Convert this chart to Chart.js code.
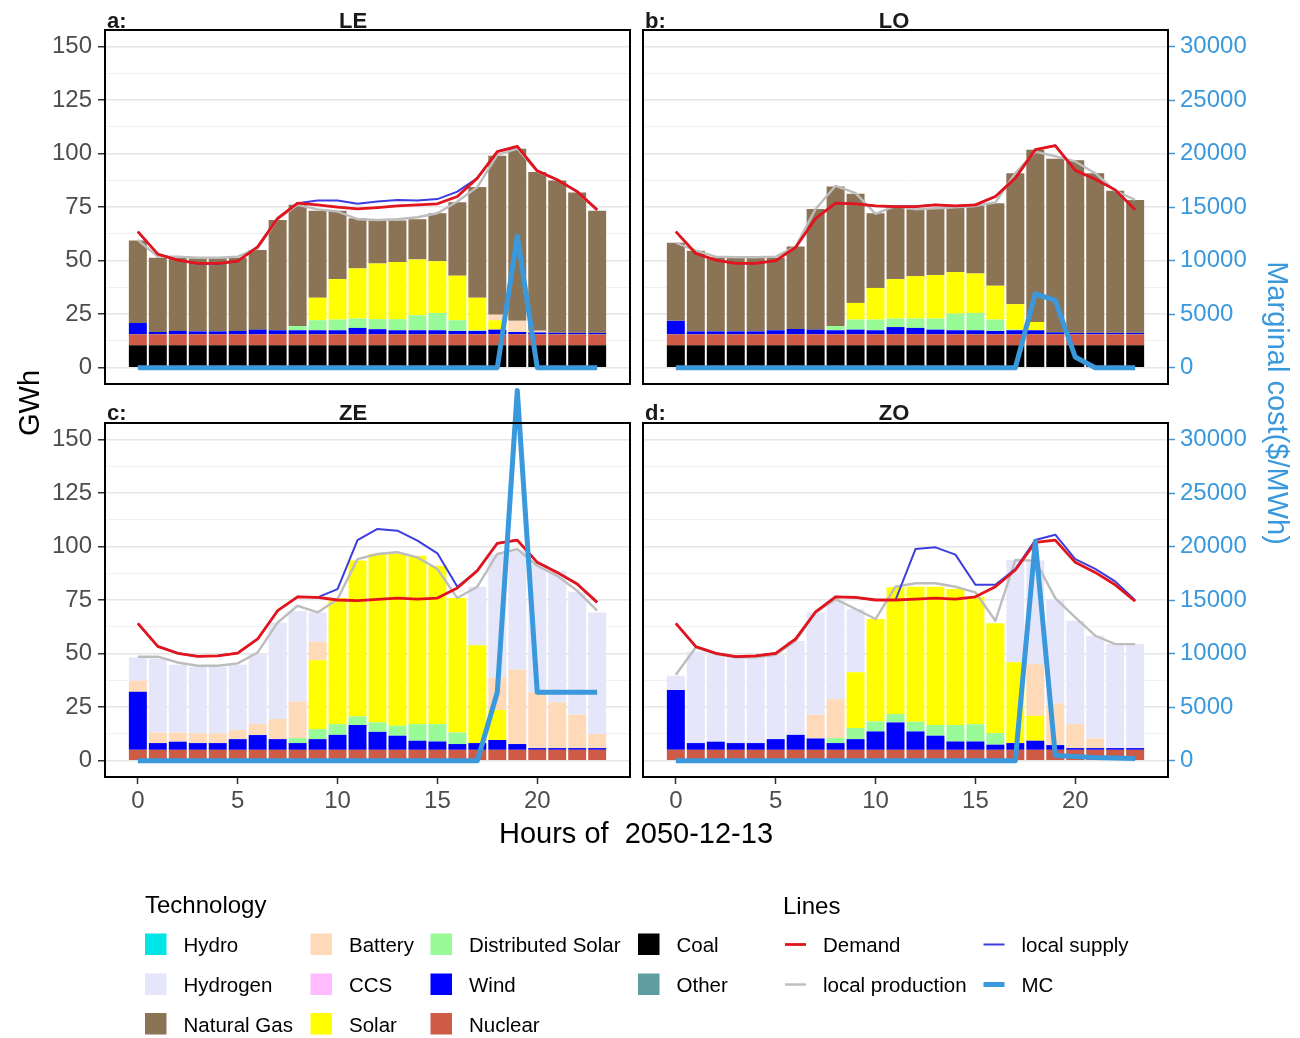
<!DOCTYPE html>
<html>
<head>
<meta charset="utf-8">
<script src="https://cdn.jsdelivr.net/npm/chart.js@4.4.0/dist/chart.umd.min.js"></script>
<style>
  html, body { margin: 0; padding: 0; background: #ffffff; }
  body { width: 1300px; height: 1038px; position: relative; overflow: hidden; font-family: "Liberation Sans", Arial, Helvetica, sans-serif; }
  canvas { position: absolute; }
  #ov { position: absolute; left: 0; top: 0; pointer-events: none; }
</style>
</head>
<body>
<canvas id="cA" width="636" height="388" style="left:0px;top:0px;width:636px;height:388px"></canvas>
<canvas id="cB" width="663" height="388" style="left:637px;top:0px;width:663px;height:388px"></canvas>
<canvas id="cC" width="636" height="443" style="left:0px;top:383px;width:636px;height:443px"></canvas>
<canvas id="cD" width="663" height="443" style="left:637px;top:383px;width:663px;height:443px"></canvas>
<svg id="ov" width="1300" height="1038" xmlns="http://www.w3.org/2000/svg" font-family="'Liberation Sans', Arial, Helvetica, sans-serif"></svg>
<script>
// ---------------- data ----------------
const hours = [0,1,2,3,4,5,6,7,8,9,10,11,12,13,14,15,16,17,18,19,20,21,22,23];
const xTickVals = [0,5,10,15,20];
const yMajorTicks = [0,25,50,75,100,125,150];
const yMinorTicks = [12.5,37.5,62.5,87.5,112.5,137.5];
const mcTickVals = [0,5000,10000,15000,20000,25000,30000];

// stacked technologies, bottom to top
const techNames  = ['Coal','Nuclear','Wind','Distributed Solar','Solar','Battery','Hydrogen','Natural Gas'];
const techColors = ['#000000','#cd5b45','#0000ff','#98fb98','#ffff00','#ffdab9','#e6e6fa','#8b7355'];

// legend (column-major, as in the figure)
const legendTech   = ['Hydro','Hydrogen','Natural Gas','Battery','CCS','Solar','Distributed Solar','Wind','Nuclear','Coal','Other'];
const legendColors = ['#00e5e5','#e6e6fa','#8b7355','#ffdab9','#ffbbff','#ffff00','#98fb98','#0000ff','#cd5b45','#000000','#5f9ea0'];
const legendLines  = ['Demand','local production','local supply','MC'];

// ---- panel a: LE ----
const LE_coal     = [10.5,10.5,10.5,10.5,10.5,10.5,10.5,10.5,10.5,10.5,10.5,10.5,10.5,10.5,10.5,10.5,10.5,10.5,10.5,10.5,10.5,10.5,10.5,10.5];
const LE_nuclear  = [5.1,5.1,5.1,5.1,5.1,5.1,5.1,5.1,5.1,5.1,5.1,5.1,5.1,5.1,5.1,5.1,5.1,5.1,5.1,5.1,5.1,5.1,5.1,5.1];
const LE_wind     = [5.3,1.1,1.6,1.4,1.4,1.6,2.2,1.9,1.9,1.9,1.9,3.0,2.4,1.9,1.9,1.9,1.6,1.6,2.2,1.1,0.9,0.7,0.7,0.7];
const LE_dsolar   = [0,0,0,0,0,0,0,0,2.0,4.7,5.0,4.4,4.7,5.2,7.0,8.1,5.0,0.3,0,0,0,0,0,0];
const LE_solar    = [0,0,0,0,0,0,0,0,0,10.5,18.9,23.4,26.0,26.7,26.1,24.2,20.8,15.2,4.4,0,0,0,0,0];
const LE_battery  = [0,0,0,0,0,0,0,0,0,0,0,0,0,0,0,0,0,0,2.6,5.2,0.8,0,0,0];
const LE_hydrogen = [0,0,0,0,0,0,0,0,0,0,0,0,0,0,0,0,0,0,0,0,0,0,0,0];
const LE_gas      = [38.5,34.7,34.2,34.1,34.1,34.2,37.2,51.5,56.6,40.7,31.9,23.4,20.0,19.4,18.8,22.4,34.3,51.7,74.2,80.4,74.1,71.2,65.6,57.1];
const LE_demand     = [63.6,53.1,50.3,48.8,48.8,49.8,56.5,69.8,76.9,76.1,75.0,74.2,74.8,75.6,76.1,76.6,80.0,88.6,101.0,103.4,92.0,87.8,82.3,73.8];
const LE_supply     = [63.6,53.1,50.3,48.6,48.6,49.8,56.5,69.8,76.9,78.1,78.1,76.6,77.7,78.4,78.1,78.8,82.3,88.6,101.0,103.4,92.0,87.8,82.3,73.8];
const LE_production = [59.7,51.9,51.9,51.4,51.4,51.9,55.8,69.4,76.1,74.0,73.0,69.4,69.0,69.4,70.3,72.2,77.7,84.4,99.5,102.3,91.7,87.8,82.3,73.4];
const LE_mc         = [0,0,0,0,0,0,0,0,0,0,0,0,0,0,0,0,0,0,0,12300,0,0,0,0];

// ---- panel b: LO ----
const LO_coal     = [10.5,10.5,10.5,10.5,10.5,10.5,10.5,10.5,10.5,10.5,10.5,10.5,10.5,10.5,10.5,10.5,10.5,10.5,10.5,10.5,10.5,10.5,10.5,10.5];
const LO_nuclear  = [5.1,5.1,5.1,5.1,5.1,5.1,5.1,5.1,5.1,5.1,5.1,5.1,5.1,5.1,5.1,5.1,5.1,5.1,5.1,5.1,5.1,5.1,5.1,5.1];
const LO_wind     = [6.3,1.4,1.4,1.4,1.4,1.9,2.5,2.2,1.9,2.2,1.9,3.4,3.0,2.2,1.9,1.9,1.6,1.9,1.9,0.9,0.7,0.7,0.7,0.7];
const LO_dsolar   = [0,0,0,0,0,0,0,0,2.0,4.7,5.0,4.0,4.4,5.2,7.8,8.1,5.3,0.3,0,0,0,0,0,0];
const LO_solar    = [0,0,0,0,0,0,0,0,0,7.8,14.8,18.4,19.8,20.3,19.4,18.4,15.8,11.9,3.9,0,0,0,0,0];
const LO_battery  = [0,0,0,0,0,0,0,0,0,0,0,0,0,0,0,0,0,0,0,0,0,0,0,0];
const LO_hydrogen = [0,0,0,0,0,0,0,0,0,0,0,0,0,0,0,0,0,0,0,0,0,0,0,0];
const LO_gas      = [36.5,37.7,34.6,34.4,34.4,33.9,38.5,56.4,65.2,51.0,34.9,34.2,31.2,31.2,30.3,31.6,38.6,61.2,80.5,81.2,80.6,74.6,66.4,62.1];
const LO_demand     = [63.6,53.4,50.3,48.8,48.8,50.0,56.3,69.8,76.9,76.6,75.6,75.3,75.3,76.1,75.6,76.1,80.0,88.6,101.9,103.8,92.2,88.1,83.1,73.8];
const LO_supply     = [63.6,53.4,50.3,48.8,48.8,50.0,56.3,69.8,76.9,76.6,75.6,75.3,75.3,76.1,75.6,76.1,80.0,88.6,101.9,103.8,92.2,88.1,83.1,73.8];
const LO_production = [58.4,54.7,51.9,51.6,51.6,51.9,56.6,74.2,85.0,81.6,71.9,75.6,74.0,74.5,75.0,75.6,77.2,90.9,101.0,98.8,96.4,90.9,82.7,78.4];
const LO_mc         = [0,0,0,0,0,0,0,0,0,0,0,0,0,0,0,0,0,0,6900,6300,1000,0,0,0];

// ---- panel c: ZE ----
const ZE_coal     = [0,0,0,0,0,0,0,0,0,0,0,0,0,0,0,0,0,0,0,0,0,0,0,0];
const ZE_nuclear  = [5.1,5.1,5.1,5.1,5.1,5.1,5.1,5.1,5.1,5.1,5.1,5.1,5.1,5.1,5.1,5.1,5.1,5.1,5.1,5.1,5.1,5.1,5.1,5.1];
const ZE_wind     = [27.1,3.15,3.8,3.15,3.15,5.0,6.9,5.0,3.15,5.0,7.0,11.6,8.4,6.6,4.25,3.9,2.7,3.15,4.6,2.7,0.8,0.8,0.8,0.8];
const ZE_dsolar   = [0,0,0,0,0,0,0,0,2.35,4.7,5.0,4.0,4.4,4.7,7.75,8.1,5.4,0,0,0,0,0,0,0];
const ZE_solar    = [0,0,0,0,0,0,0,0,0,32.2,58.9,72.8,78.7,80.2,78.7,74.0,62.8,45.75,14.0,0,0,0,0,0];
const ZE_battery  = [5.2,4.95,4.3,4.55,4.55,4.2,5.1,9.4,17.1,8.6,0,0,0,0,0,0,0,0,15.2,34.7,26.0,21.4,15.6,6.6];
const ZE_hydrogen = [10.9,34.6,31.7,31.1,31.1,30.6,32.7,45.1,42.3,13.7,0,0,0,0,0,0,0,27.3,57.6,55.9,60.0,61.5,57.5,56.8];
const ZE_gas      = [0,0,0,0,0,0,0,0,0,0,0,0,0,0,0,0,0,0,0,0,0,0,0,0];
const ZE_demand     = [64.2,53.4,50.2,48.8,49.0,50.3,56.9,70.1,76.6,76.3,75.1,74.8,75.4,76.0,75.5,76.0,80.7,88.8,101.6,103.1,92.7,88.0,82.6,74.0];
const ZE_supply     = [64.2,53.4,50.2,48.8,49.0,50.3,56.9,70.1,76.6,76.3,80.2,103.1,108.3,107.5,102.8,96.9,81.3,88.8,101.6,103.1,92.7,88.0,82.6,74.0];
const ZE_production = [48.6,48.6,45.9,44.4,44.4,45.5,50.6,64.6,72.4,69.3,75.5,94.2,96.6,97.4,95.0,89.6,76.0,81.3,96.6,98.9,91.1,86.4,79.4,70.1];
const ZE_mc         = [0,0,0,0,0,0,0,0,0,0,0,0,0,0,0,0,0,0,6400,34600,6400,6400,6400,6400];

// ---- panel d: ZO ----
const ZO_coal     = [0,0,0,0,0,0,0,0,0,0,0,0,0,0,0,0,0,0,0,0,0,0,0,0];
const ZO_nuclear  = [5.1,5.1,5.1,5.1,5.1,5.1,5.1,5.1,5.1,5.1,5.1,5.1,5.1,5.1,5.1,5.1,5.1,5.1,5.1,5.1,5.1,5.1,5.1,5.1];
const ZO_wind     = [27.9,3.15,3.8,3.15,3.15,5.0,7.0,5.3,3.15,5.0,8.6,12.8,8.6,6.6,3.9,3.9,2.4,3.15,4.25,2.2,0.8,0.8,0.8,0.8];
const ZO_dsolar   = [0,0,0,0,0,0,0,0,2.35,5.2,4.7,3.9,4.5,5.0,7.7,8.1,5.4,0,0,0,0,0,0,0];
const ZO_solar    = [0,0,0,0,0,0,0,0,0,26.0,47.8,59.2,63.1,64.6,63.5,59.5,51.3,37.75,11.65,0,0,0,0,0];
const ZO_battery  = [0,0,0,0,0,0,0,11.1,18.2,0,0,0,0,0,0,0,0,0,24.2,19.5,11.2,4.5,0,0];
const ZO_hydrogen = [6.7,42.75,40.6,40.05,40.05,39.4,43.9,47.8,46.7,29.6,0,0,0,0,0,0,0,47.8,48.3,48.7,48.3,48.0,48.6,48.6];
const ZO_gas      = [0,0,0,0,0,0,0,0,0,0,0,0,0,0,0,0,0,0,0,0,0,0,0,0];
const ZO_demand     = [64.2,53.3,50.2,48.6,49.0,50.2,56.9,69.6,76.6,76.3,75.1,75.1,75.5,76.0,75.5,76.6,81.3,89.1,102.0,103.1,92.7,88.0,82.2,74.5];
const ZO_supply     = [64.2,53.3,50.2,48.6,49.0,50.2,56.9,69.6,76.6,76.3,75.1,75.1,98.9,99.7,96.3,82.2,82.2,89.6,103.1,105.6,94.2,89.6,83.8,75.0];
const ZO_production = [40.2,53.0,49.8,48.3,48.3,49.5,56.0,69.3,75.5,70.9,66.2,81.3,82.9,82.9,81.3,78.7,65.4,93.8,93.5,76.0,67.0,58.4,54.5,54.5];
const ZO_mc         = [0,0,0,0,0,0,0,0,0,0,0,0,0,0,0,0,0,0,20500,500,400,300,250,200];

// ---------------- styling / layout ----------------
const FONT = '"Liberation Sans", Arial, Helvetica, sans-serif';
Chart.defaults.font.family = FONT;
const MC_COLOR = '#3a98dc';
const DEMAND_COLOR = '#e3141c';
const SUPPLY_COLOR = '#3c3ce0';
const PROD_COLOR = '#bdbdbd';
const YMIN = -7.6, YMAX = 157.8, MC_FACTOR = 200;
const XMIN = -1.645, XMAX = 24.645;

const framePlugin = {
  id: 'frame',
  afterDatasetsDraw(chart) {
    const a = chart.chartArea, ctx = chart.ctx;
    ctx.save();
    ctx.strokeStyle = '#000000';
    ctx.lineWidth = 2;
    ctx.strokeRect(a.left, a.top, a.right - a.left, a.bottom - a.top);
    ctx.restore();
  }
};

function zeroPad(s) { s.paddingTop = 0; s.paddingBottom = 0; s.paddingLeft = 0; s.paddingRight = 0; }
function pts(arr) { return hours.map((h, i) => ({ x: h, y: arr[i] })); }

function build(id, spec) {
  const datasets = [];
  techNames.forEach((name, k) => {
    datasets.push({
      type: 'bar', label: name, data: pts(spec.tech[k]),
      backgroundColor: techColors[k], borderWidth: 0,
      barPercentage: 1.0, categoryPercentage: 0.9,
      xAxisID: 'x', yAxisID: 'y', order: 5
    });
  });
  datasets.push({ type: 'line', label: 'local production', data: pts(spec.production),
    borderColor: PROD_COLOR, borderWidth: 2.4, pointRadius: 0, tension: 0, fill: false,
    xAxisID: 'x', yAxisID: 'yl', order: 4, borderJoinStyle: 'round' });
  datasets.push({ type: 'line', label: 'local supply', data: pts(spec.supply),
    borderColor: SUPPLY_COLOR, borderWidth: 2, pointRadius: 0, tension: 0, fill: false,
    xAxisID: 'x', yAxisID: 'yl', order: 3, borderJoinStyle: 'round' });
  datasets.push({ type: 'line', label: 'Demand', data: pts(spec.demand),
    borderColor: DEMAND_COLOR, borderWidth: 2.8, pointRadius: 0, tension: 0, fill: false,
    xAxisID: 'x', yAxisID: 'yl', order: 2, borderJoinStyle: 'round' });
  datasets.push({ type: 'line', label: 'MC', data: pts(spec.mc),
    borderColor: MC_COLOR, borderWidth: 5, pointRadius: 0, tension: 0, fill: false,
    xAxisID: 'x', yAxisID: 'y2', order: 1, clip: false, borderJoinStyle: 'round' });

  const isMajor = (c) => c.tick && Math.abs(c.tick.value % 25) < 1e-6;

  new Chart(document.getElementById(id), {
    type: 'bar',
    data: { datasets },
    plugins: [framePlugin],
    options: {
      responsive: false, animation: false, devicePixelRatio: 1,
      layout: { padding: spec.padding, autoPadding: false },
      plugins: { legend: { display: false }, tooltip: { enabled: false } },
      scales: {
        x: {
          type: 'linear', min: XMIN, max: XMAX, offset: false, stacked: true,
          display: spec.showX, position: 'bottom',
          afterBuildTicks: (s) => { s.ticks = xTickVals.map(v => ({ value: v })); },
          afterFit: (s) => { s.height = spec.showX ? 49 : 0; zeroPad(s); },
          grid: { display: true, drawOnChartArea: false, drawTicks: true, tickLength: 7,
                  tickColor: '#333333', tickWidth: 1.5, offset: false },
          border: { display: false },
          ticks: { color: '#4d4d4d', font: { size: 24 }, padding: 3, maxRotation: 0,
                   autoSkip: false, callback: (v) => String(v) }
        },
        y: {
          type: 'linear', position: 'left', stacked: true, min: YMIN, max: YMAX,
          afterBuildTicks: (s) => {
            s.ticks = yMajorTicks.concat(yMinorTicks).sort((a, b) => a - b).map(v => ({ value: v }));
          },
          afterFit: (s) => { s.width = spec.showLeft ? 105 : 0; zeroPad(s); },
          grid: {
            color: (c) => isMajor(c) ? '#e6e6e6' : '#f1f1f1',
            lineWidth: (c) => isMajor(c) ? 1.5 : 1,
            drawTicks: spec.showLeft, tickLength: 7,
            tickColor: (c) => isMajor(c) ? '#333333' : 'rgba(0,0,0,0)',
            tickWidth: 1.5
          },
          border: { display: false },
          ticks: { display: spec.showLeft, color: '#4d4d4d', font: { size: 24 }, padding: 6,
                   autoSkip: false,
                   callback: (v) => (Math.abs(v % 25) < 1e-6 ? String(v) : '') }
        },
        yl: { type: 'linear', display: false, min: YMIN, max: YMAX, stacked: false,
              afterFit: (s) => { s.width = 0; zeroPad(s); } },
        y2: {
          type: 'linear', position: 'right', display: spec.showRight, stacked: false,
          min: YMIN * MC_FACTOR, max: YMAX * MC_FACTOR, z: 1,
          afterBuildTicks: (s) => { s.ticks = mcTickVals.map(v => ({ value: v })); },
          afterFit: (s) => { s.width = spec.showRight ? 132 : 0; zeroPad(s); },
          grid: { drawOnChartArea: false, drawTicks: true, tickLength: 7,
                  tickColor: MC_COLOR, tickWidth: 1.5 },
          border: { display: true, color: MC_COLOR, width: 2 },
          ticks: { color: MC_COLOR, font: { size: 24 }, padding: 5, autoSkip: false,
                   callback: (v) => String(v) }
        }
      }
    }
  });
}

build('cA', {
  tech: [LE_coal, LE_nuclear, LE_wind, LE_dsolar, LE_solar, LE_battery, LE_hydrogen, LE_gas],
  demand: LE_demand, supply: LE_supply, production: LE_production, mc: LE_mc,
  showLeft: true, showRight: false, showX: false,
  padding: { top: 30, left: 0, right: 6, bottom: 4 }
});
build('cB', {
  tech: [LO_coal, LO_nuclear, LO_wind, LO_dsolar, LO_solar, LO_battery, LO_hydrogen, LO_gas],
  demand: LO_demand, supply: LO_supply, production: LO_production, mc: LO_mc,
  showLeft: false, showRight: true, showX: false,
  padding: { top: 30, left: 6, right: 0, bottom: 4 }
});
build('cC', {
  tech: [ZE_coal, ZE_nuclear, ZE_wind, ZE_dsolar, ZE_solar, ZE_battery, ZE_hydrogen, ZE_gas],
  demand: ZE_demand, supply: ZE_supply, production: ZE_production, mc: ZE_mc,
  showLeft: true, showRight: false, showX: true,
  padding: { top: 40, left: 0, right: 6, bottom: 0 }
});
build('cD', {
  tech: [ZO_coal, ZO_nuclear, ZO_wind, ZO_dsolar, ZO_solar, ZO_battery, ZO_hydrogen, ZO_gas],
  demand: ZO_demand, supply: ZO_supply, production: ZO_production, mc: ZO_mc,
  showLeft: false, showRight: true, showX: true,
  padding: { top: 40, left: 6, right: 0, bottom: 0 }
});

// ---------------- text overlay (titles, axis titles, legend) ----------------
const NS = 'http://www.w3.org/2000/svg';
const ov = document.getElementById('ov');
function el(tag, attrs, text) {
  const e = document.createElementNS(NS, tag);
  for (const k in attrs) e.setAttribute(k, attrs[k]);
  if (text !== undefined) e.textContent = text;
  ov.appendChild(e);
  return e;
}
const panelTitles = [['a:', 'LE', 107, 353, 28], ['b:', 'LO', 645, 894, 28], ['c:', 'ZE', 107, 353, 420], ['d:', 'ZO', 645, 894, 420]];
panelTitles.forEach(([tag, name, x1, x2, y]) => {
  el('text', { x: x1, y: y, 'font-size': 22, 'font-weight': 'bold', fill: '#1a1a1a' }, tag);
  el('text', { x: x2, y: y, 'font-size': 22, 'font-weight': 'bold', fill: '#1a1a1a', 'text-anchor': 'middle' }, name);
});
el('text', { transform: 'translate(39,403) rotate(-90)', 'text-anchor': 'middle', 'font-size': 29, fill: '#000' }, 'GWh');
el('text', { transform: 'translate(1268,403) rotate(90)', 'text-anchor': 'middle', 'font-size': 29, fill: MC_COLOR }, 'Marginal cost($/MWh)');
const xt = el('text', { x: 636, y: 843, 'text-anchor': 'middle', 'font-size': 29, fill: '#000' }, 'Hours of  2050-12-13');
xt.setAttributeNS('http://www.w3.org/XML/1998/namespace', 'xml:space', 'preserve');
xt.style.whiteSpace = 'pre';

// technology legend
el('text', { x: 145, y: 913, 'font-size': 24, fill: '#000' }, 'Technology');
const colKeyX = [145, 310.5, 430.5, 638];
const rowKeyY = [933.5, 973.5, 1013];
legendTech.forEach((name, i) => {
  const c = Math.floor(i / 3), r = i % 3;
  el('rect', { x: colKeyX[c], y: rowKeyY[r], width: 21.5, height: 21.5, fill: legendColors[i] });
  el('text', { x: colKeyX[c] + 38.5, y: rowKeyY[r] + 18.5, 'font-size': 20.5, fill: '#000' }, name);
});
// lines legend
el('text', { x: 783, y: 914, 'font-size': 24, fill: '#000' }, 'Lines');
const lineColors = [DEMAND_COLOR, PROD_COLOR, SUPPLY_COLOR, MC_COLOR];
const lineWidths = [2.8, 2.4, 2, 5];
const lColX = [785, 983.5];
const lRowY = [944.5, 984.5];
legendLines.forEach((name, i) => {
  const c = Math.floor(i / 2), r = i % 2;
  el('line', { x1: lColX[c], x2: lColX[c] + 21, y1: lRowY[r], y2: lRowY[r], stroke: lineColors[i], 'stroke-width': lineWidths[i] });
  el('text', { x: lColX[c] + 38, y: lRowY[r] + 7, 'font-size': 20.5, fill: '#000' }, name);
});
</script>
</body>
</html>
